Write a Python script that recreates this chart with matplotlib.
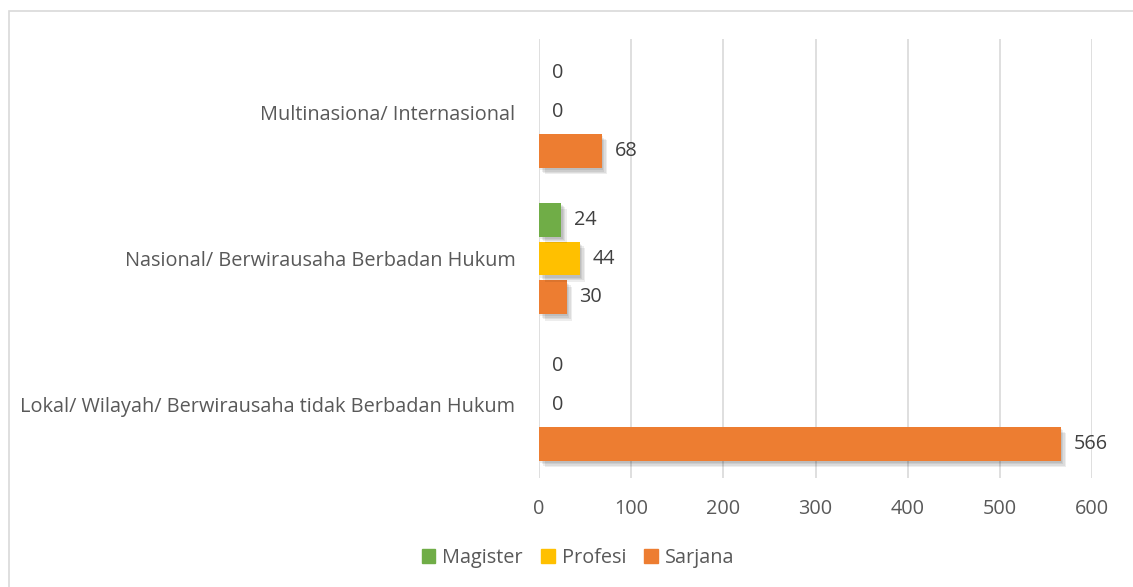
import matplotlib.pyplot as plt
import matplotlib.patheffects as pe
import numpy as np
from matplotlib.patches import Rectangle, Patch

plt.rcParams['font.family'] = ['Open Sans', 'DejaVu Sans']

categories = ['Lokal/ Wilayah/ Berwirausaha tidak Berbadan Hukum',
              'Nasional/ Berwirausaha Berbadan Hukum',
              'Multinasiona/ Internasional']
sarjana = [566, 30, 68]
profesi = [0, 44, 0]
magister = [0, 24, 0]

series = [('Sarjana', sarjana, '#ED7D31', -0.266),
          ('Profesi', profesi, '#FFC000', 0.0),
          ('Magister', magister, '#70AD47', 0.266)]

fig = plt.figure(figsize=(11.33, 5.87), dpi=100)
ax = fig.add_axes([539 / 1133, 1 - 478 / 587, 553 / 1133, 439 / 587])

# outer frame like the excel chart border
fig.patches.append(Rectangle((9 / 1133, -0.1), 1.2, 1 - 11 / 587 + 0.1,
                             transform=fig.transFigure, fill=False,
                             edgecolor='#D9D9D9', linewidth=1.2))

y = np.arange(len(categories))
# soft-ish drop shadow built from a few faint layers
shadow = [pe.SimplePatchShadow(offset=(o, -o - 0.5), shadow_rgbFace='#000000', alpha=0.07)
          for o in (1, 2, 3, 4)] + [pe.Normal()]
for name, vals, col, off in series:
    bars = ax.barh(y + off, vals, height=0.232, color=col, zorder=3)
    for b, v in zip(bars, vals):
        if v > 0:
            b.set_path_effects(shadow)
        ax.text(v + 14, b.get_y() + b.get_height() / 2, str(v), va='center', ha='left',
                fontsize=14.3, color='#404040')

ax.set_xlim(0, 600)
ax.set_ylim(-0.5, 2.5)
ax.set_xticks(range(0, 601, 100))
ax.set_yticks(y)
ax.set_yticklabels(categories)
ax.tick_params(axis='both', length=0, labelsize=14.3, labelcolor='#595959')
ax.tick_params(axis='x', pad=15)
ax.tick_params(axis='y', pad=17)
ax.grid(axis='x', color='#D9D9D9', linewidth=1.2, zorder=0)
for s in ax.spines.values():
    s.set_visible(False)

leg_handles = [Patch(color='#70AD47'), Patch(color='#FFC000'), Patch(color='#ED7D31')]
fig.legend(leg_handles, ['Magister', 'Profesi', 'Sarjana'],
           loc='center', bbox_to_anchor=(578 / 1133, 1 - 558 / 587), ncol=3, frameon=False,
           fontsize=14.3, labelcolor='#595959', handlelength=0.7, handleheight=0.7,
           handletextpad=0.35, columnspacing=0.9)

fig.savefig('out.png', dpi=100)
